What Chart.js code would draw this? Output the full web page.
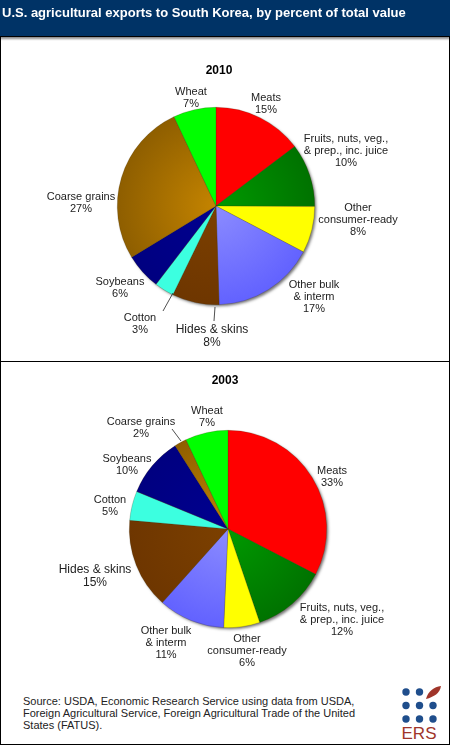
<!DOCTYPE html>
<html><head><meta charset="utf-8">
<script src="https://cdn.jsdelivr.net/npm/chart.js@4"></script>
<style>
html,body{margin:0;padding:0;background:#fff;overflow:hidden}
body{width:450px;height:745px;position:relative;font-family:"Liberation Sans",Arial,sans-serif}
#frame{position:absolute;left:0;top:0;width:448px;height:743px;border:1px solid #000}
#head{position:absolute;left:0;top:0;width:450px;height:36px;background:#003366;border-bottom:1px solid #000;box-shadow:0 2px 2px rgba(0,0,0,.45);z-index:3}
#head div{position:absolute;left:2px;top:4px;color:#fff;font-weight:bold;font-size:13px;line-height:17px;white-space:nowrap}
#div{position:absolute;left:0;top:361px;width:450px;height:1px;background:#000}
canvas{position:absolute;left:0}
#source{position:absolute;left:23px;top:695px;font-size:11px;line-height:12px;color:#222;white-space:nowrap}
#logo{position:absolute;left:398px;top:684px}
</style></head><body>
<div id="frame"></div>
<div id="head"><div>U.S. agricultural exports to South Korea, by percent of total value</div></div>
<div id="div"></div>
<div style="position:absolute;left:0;top:37px;width:450px;height:324px"><canvas id="c2010" style="top:0"></canvas></div>
<div style="position:absolute;left:0;top:362px;width:450px;height:320px"><canvas id="c2003" style="top:0"></canvas></div>
<div id="source">Source: USDA, Economic Research Service using data from USDA,<br>Foreign Agricultural Service, Foreign Agricultural Trade of the United<br>States (FATUS).</div>
<svg id="logo" width="46" height="58" viewBox="0 0 46 58">
<g fill="#1f4e8c"><circle cx="8" cy="8" r="3.7"/><circle cx="21.5" cy="8" r="3.7"/>
<circle cx="8" cy="21.5" r="3.7"/><circle cx="21.5" cy="21.5" r="3.7"/><circle cx="35" cy="21.5" r="3.7"/>
<circle cx="8" cy="35" r="3.7"/><circle cx="21.5" cy="35" r="3.7"/><circle cx="35" cy="35" r="3.7"/></g>
<path d="M28 15 C30 7 36 3 43 2 C42 9 36 13 28 15Z" fill="#a0352a"/>
<text x="3.5" y="55" font-family="Liberation Sans" font-size="17" fill="#a0352a" textLength="35">ERS</text>
</svg>
<script>
const categories = ["Meats","Fruits, nuts, veg.,\n& prep., inc. juice","Other\nconsumer-ready","Other bulk\n& interm","Hides & skins","Cotton","Soybeans","Coarse grains","Wheat"];
const values2010 = [14.7,10.4,7.6,16.8,7.7,3.2,5.9,26.7,7.0];
const values2003 = [32.6,12.2,5.9,10.9,14.8,4.8,9.8,2.0,7.0];
const innerColors = ["#ff0000","#009a00","#ffff00","#8c8cff","#7c4000","#3cffe0","#000090","#c48400","#00ff00"];
const outerColors = ["#ff0000","#007200","#ffff00","#6262ff","#6e3600","#3cffe0","#000080","#8e5e00","#00ff00"];
const labelDx2010 = [50,130,142,98,-4,-76,-96,-135,-25];
const labelDy2010 = [-108,-67,2,79,124,112,76,-9,-114];
const labelDx2003 = [104,114,19,-62,-133,-118,-101,-87,-21];
const labelDy2003 = [-58,79,110,102,41,-29,-70,-107,-118];
const leaders2010 = [[-43,87,-53,105],[-1,101,-2,115]];
const leaders2003 = [[-47,-88,-56,-100]];

function sliceFill(ctx){
  const a = ctx.chart.chartArea;
  if(!a || ctx.type !== "data") return innerColors[ctx.dataIndex];
  const cx=(a.left+a.right)/2, cy=(a.top+a.bottom)/2, r=(a.right-a.left)/2;
  const g = ctx.chart.ctx.createRadialGradient(cx,cy,0,cx,cy,r);
  g.addColorStop(0,innerColors[ctx.dataIndex]);
  g.addColorStop(1,outerColors[ctx.dataIndex]);
  return g;
}
const pieDecor = {
  id:"pieDecor",
  beforeDatasetsDraw(chart){
    const arc = chart.getDatasetMeta(0).data[0], c = chart.ctx;
    c.save();
    c.shadowColor="rgba(0,0,0,.55)"; c.shadowBlur=3; c.shadowOffsetX=2; c.shadowOffsetY=2;
    c.fillStyle="#888"; c.beginPath(); c.arc(arc.x,arc.y,arc.outerRadius-0.5,0,Math.PI*2); c.fill();
    c.restore();
  },
  afterDatasetsDraw(chart,args,o){
    const arc = chart.getDatasetMeta(0).data[0], c = chart.ctx, vals = chart.data.datasets[0].data;
    c.save();
    c.strokeStyle="#222"; c.lineWidth=0.8;
    o.leaders.forEach(l=>{c.beginPath();c.moveTo(arc.x+l[0],arc.y+l[1]);c.lineTo(arc.x+l[2],arc.y+l[3]);c.stroke();});
    c.fillStyle="#222"; c.textAlign="center"; c.textBaseline="middle";
    categories.forEach((name,i)=>{
      const big = name==="Hides & skins";
      const size = big?12:11, lh = big?13:12;
      c.font = size+'px "Liberation Sans"';
      const lines = name.split("\n").concat(Math.round(vals[i])+"%");
      lines.forEach((t,k)=>c.fillText(t,arc.x+o.dx[i],arc.y+o.dy[i]+k*lh));
    });
    c.font='bold 12px "Liberation Sans"'; c.fillStyle="#000";
    c.fillText(o.title,arc.x+o.titleDx,arc.y+o.titleDy);
    c.restore();
  }
};
function makePie(id,vals,pad,title,titleDx,titleDy,dx,dy,leaders){
  const cv=document.getElementById(id);
  return new Chart(cv,{type:"pie",plugins:[pieDecor],
    data:{labels:categories,datasets:[{data:vals,backgroundColor:sliceFill,borderWidth:0.6,borderColor:"rgba(60,40,0,.35)"}]},
    options:{responsive:true,maintainAspectRatio:false,animation:false,rotation:0,layout:{padding:pad},
      plugins:{legend:{display:false},tooltip:{enabled:false},pieDecor:{title,titleDx,titleDy,dx,dy,leaders}}}});
}
makePie("c2010",values2010,{left:117,right:135,top:70,bottom:56},"2010",3,-135,labelDx2010,labelDy2010,leaders2010);
makePie("c2003",values2003,{left:129,right:123,top:68,bottom:54},"2003",-3,-148,labelDx2003,labelDy2003,leaders2003);
</script>
</body></html>
